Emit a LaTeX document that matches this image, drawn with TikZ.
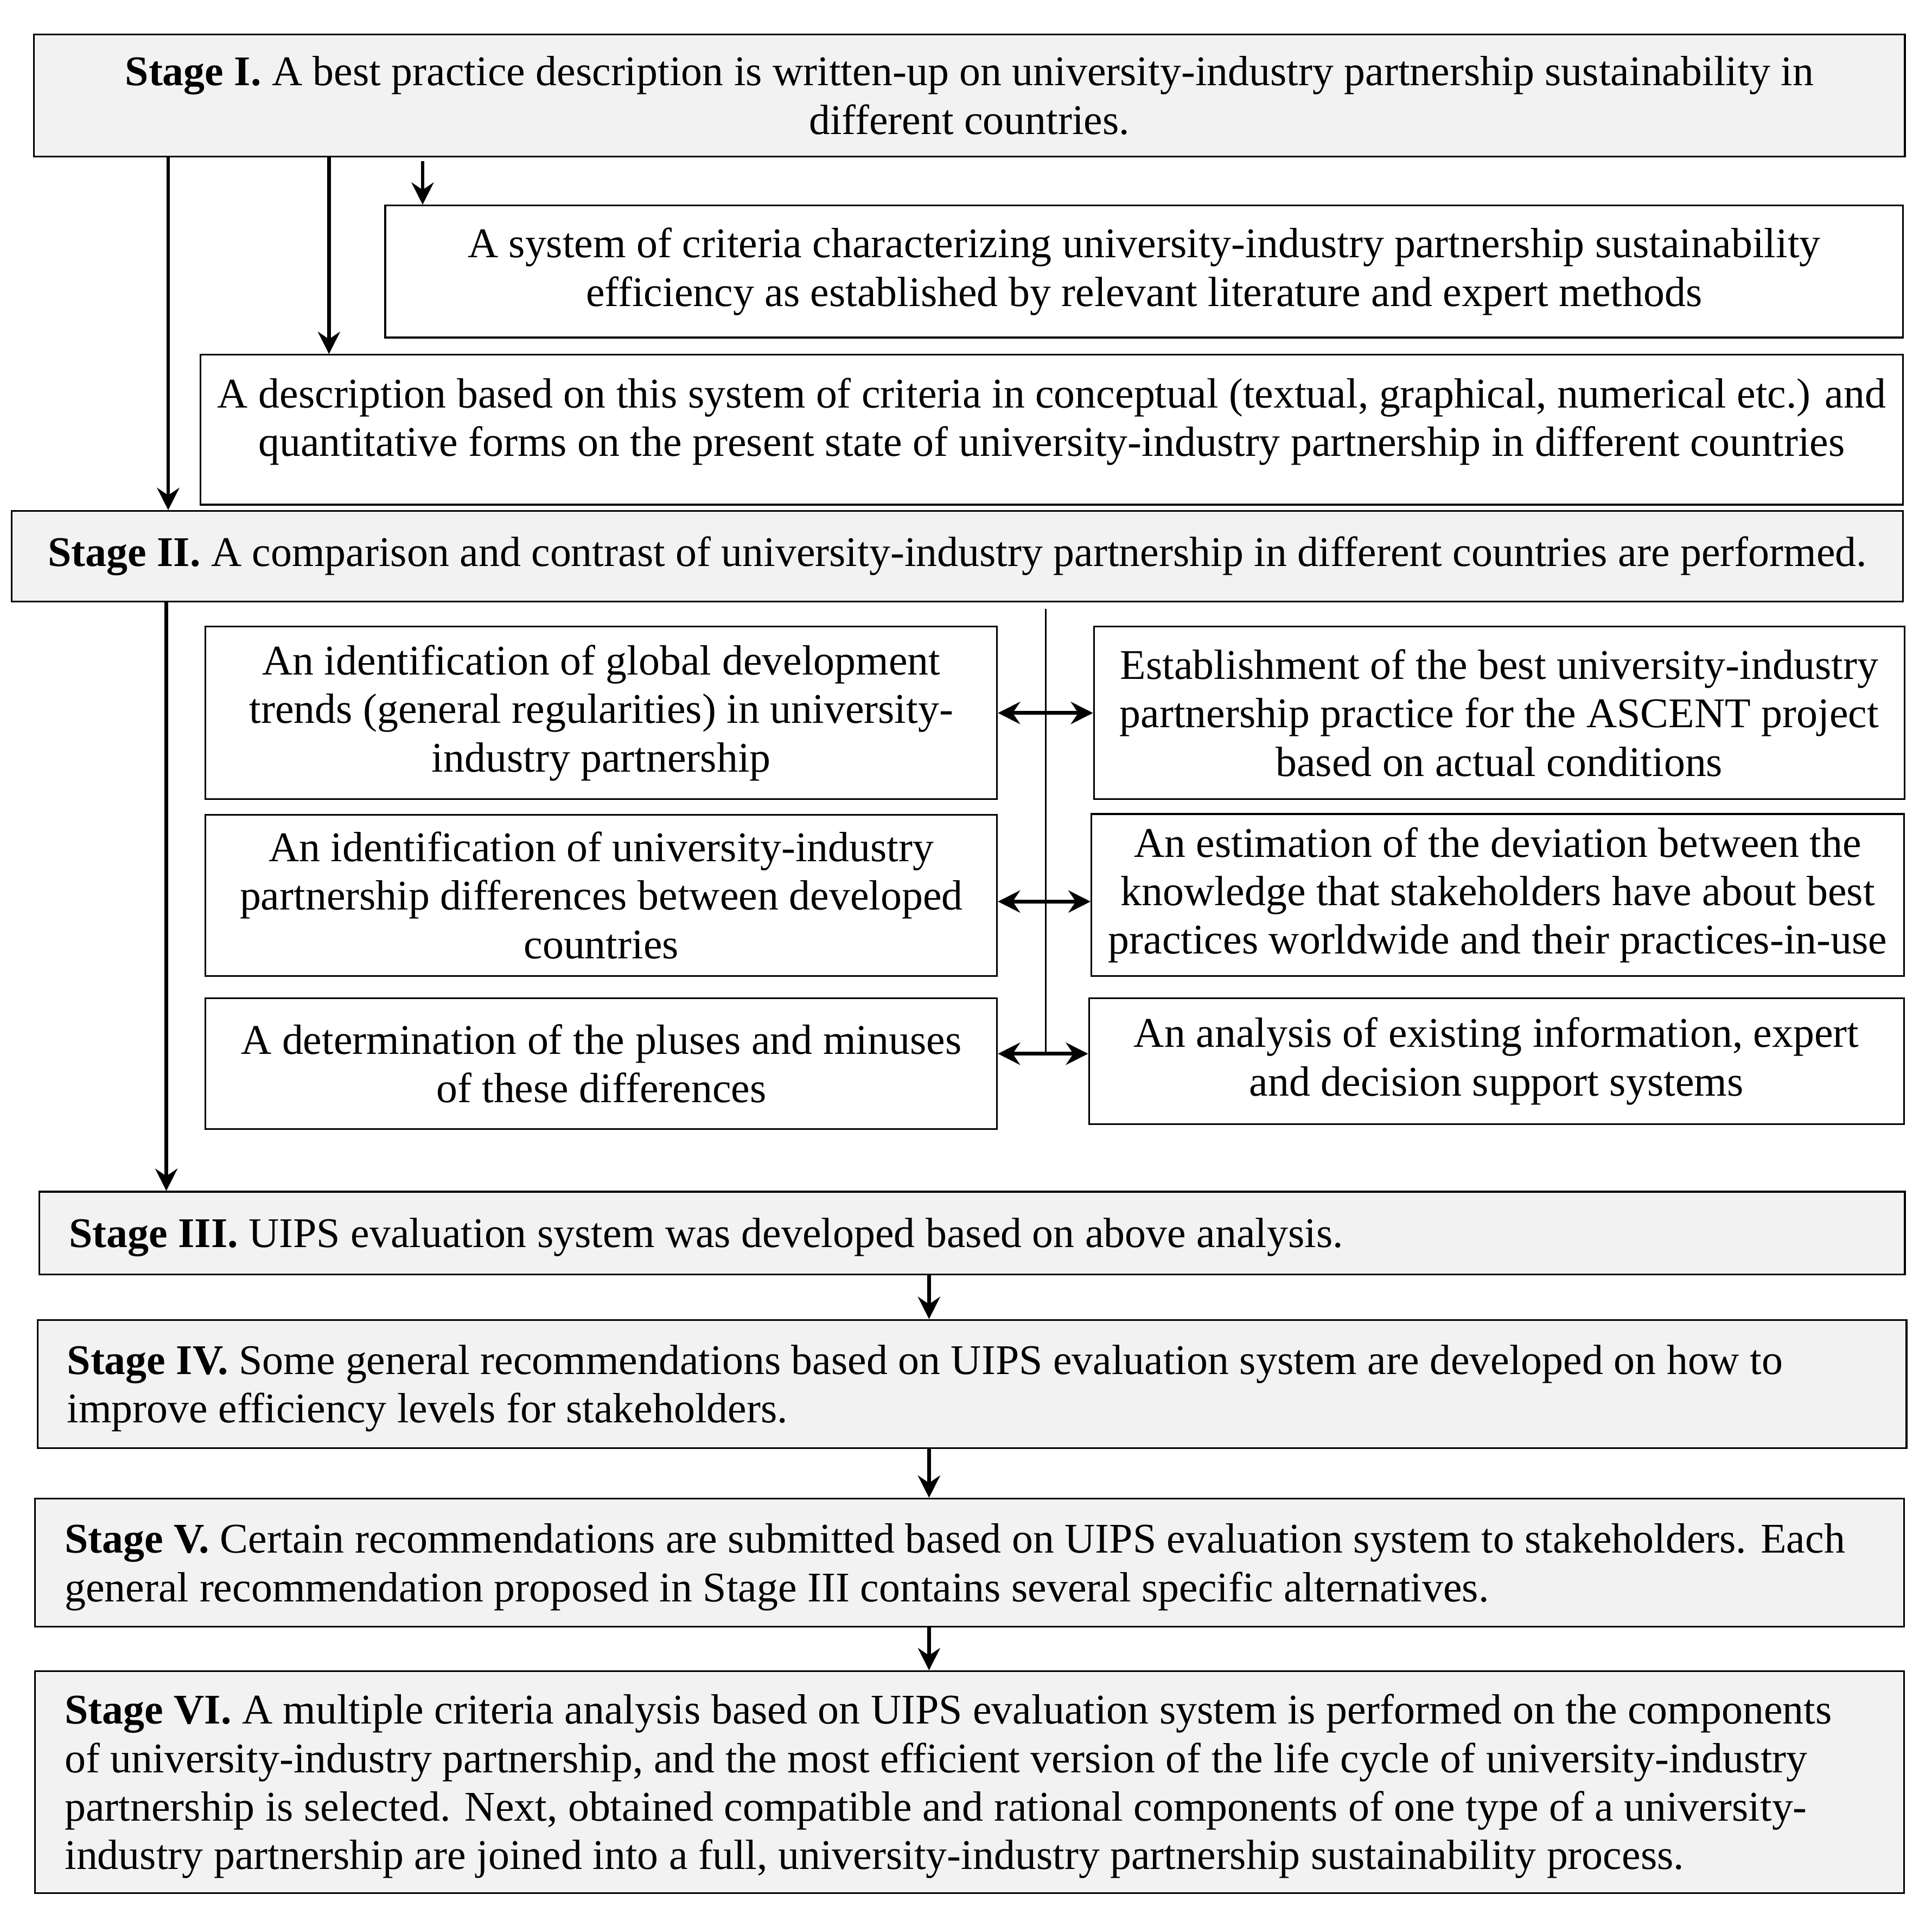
\documentclass[tikz,border=0pt]{standalone}
\usepackage{fontspec}
\setmainfont{Liberation Serif}
\usetikzlibrary{arrows.meta}
\tikzset{>={Stealth[length=1.8mm,width=1.8mm,inset=.6mm]}}

\begin{document}
\begin{tikzpicture}[x=.01cm, y=-.01cm,
    every node/.style={font=\fontsize{9.75}{11.2}\selectfont},
    stagebox/.style={draw, fill=gray!10, line width=.4pt, inner xsep=.24cm, inner ysep=0pt, align=center},
    leftbox/.style={stagebox, align=flush left, text height=.31cm},
    infobox/.style={draw, line width=.4pt, inner sep=0pt, align=center},
    link/.style={->, line width=.85pt},
    both/.style={<->, line width=.85pt}]
    \useasboundingbox (0,0) rectangle (1568,1553);

    \node[stagebox, minimum width=15.175cm, minimum height=.99cm] (stageone) at (786.75,77.5)
        {\textbf{Stage I.} A best practice description is written-up on university-industry partnership sustainability in\\ different countries.};
    \node[infobox, minimum width=12.31cm, minimum height=1.07cm] (crit) at (928.5,220.3)
        {A system of criteria characterizing university-industry partnership sustainability\\ efficiency as established by relevant literature and expert methods};
    \node[infobox, minimum width=13.81cm, minimum height=1.215cm] (descr) at (853.5,348.7)
        {A description based on this system of criteria in conceptual (textual, graphical, numerical etc.) and\\ quantitative forms on the present state of university-industry partnership in different countries\\[-.19cm]};
    \node[stagebox, minimum width=15.34cm, minimum height=.734cm] (stagetwo) at (777,451.3)
        {\textbf{Stage II.} A comparison and contrast of university-industry partnership in different countries are performed.};

    \node[infobox, minimum width=6.42cm, minimum height=1.40cm] (trendL) at (488,578.5)
        {An identification of global development\\ trends (general regularities) in university-\\ industry partnership};
    \node[infobox, minimum width=6.42cm, minimum height=1.31cm] (diffL) at (488,726.5)
        {An identification of university-industry\\ partnership differences between developed\\ countries};
    \node[infobox, minimum width=6.42cm, minimum height=1.06cm] (pluseL) at (488,863)
        {A determination of the pluses and minuses\\ of these differences};
    \node[infobox, minimum width=6.575cm, minimum height=1.40cm] (bestR) at (1216.75,578.5)
        {Establishment of the best university-industry\\ partnership practice for the ASCENT project\\ based on actual conditions};
    \node[infobox, minimum width=6.59cm, minimum height=1.315cm] (gapR) at (1215.5,726.25)
        {An estimation of the deviation between the\\ knowledge that stakeholders have about best\\ practices worldwide and their practices-in-use};
    \node[infobox, minimum width=6.61cm, minimum height=1.02cm] (infoR) at (1214.5,861)
        {An analysis of existing information, expert\\ and decision support systems};

    \node[leftbox, text width=14.65cm, minimum height=.67cm] (stagethree) at (789,1000.5)
        {\textbf{Stage III.} UIPS evaluation system was developed based on above analysis.};
    \node[leftbox, text width=14.68cm, minimum height=1.04cm] (stagefour) at (788.9,1123)
        {\textbf{Stage IV.} Some general recommendations based on UIPS evaluation system are developed on how to\\ improve efficiency levels for stakeholders.};
    \node[leftbox, text width=14.68cm, minimum height=1.04cm] (stagefive) at (787,1268)
        {\textbf{Stage V.} Certain recommendations are submitted based on UIPS evaluation system to stakeholders. Each\\ general recommendation proposed in Stage III contains several specific alternatives.};
    \node[leftbox, text width=14.68cm, minimum height=1.80cm] (stagesix) at (787,1446)
        {\textbf{Stage VI.} A multiple criteria analysis based on UIPS evaluation system is performed on the components\\ of university-industry partnership, and the most efficient version of the life cycle of university-industry\\ partnership is selected. Next, obtained compatible and rational components of one type of a university-\\ industry partnership are joined into a full, university-industry partnership sustainability process.};

    \draw[link] (stageone.south -| 136.5,0) -- (stagetwo.north -| 136.5,0);
    \draw[link] (stageone.south -| 267,0) -- (descr.north -| 267,0);
    \draw[link] ([yshift=-.03cm]stageone.south -| 343,0) -- (crit.north -| 343,0);
    \draw[link] (stagetwo.south -| 135,0) -- (stagethree.north -| 135,0);

    \coordinate (spine) at (848.7,494);
    \coordinate (pluseA) at ([yshift=.08cm]pluseL.east);
    \draw[line width=.4pt] (spine) -- (spine |- pluseA);
    \draw[both] (trendL.east) -- (bestR.west);
    \draw[both] ([yshift=-.05cm]diffL.east) -- ([yshift=-.05cm]diffL.east -| gapR.west);
    \draw[both] (pluseA) -- (pluseA -| infoR.west);

    \draw[link] (stagethree.south -| 754,0) -- (stagefour.north -| 754,0);
    \draw[link] (stagefour.south -| 754,0) -- (stagefive.north -| 754,0);
    \draw[link] (stagefive.south -| 754,0) -- (stagesix.north -| 754,0);
\end{tikzpicture}
\end{document}
